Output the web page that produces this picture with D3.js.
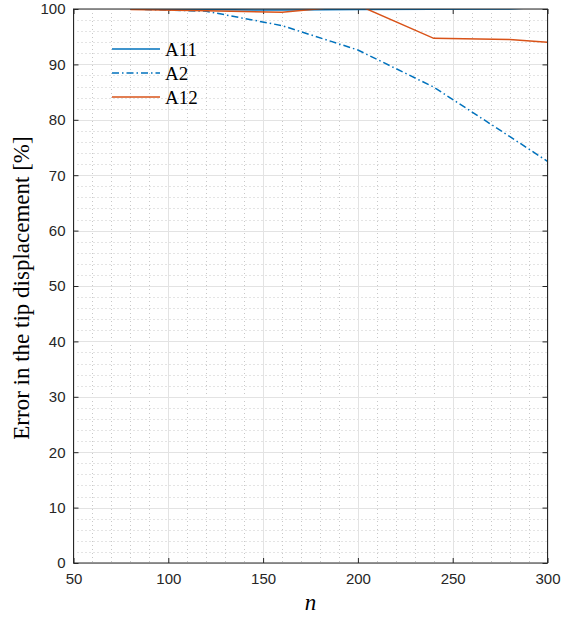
<!DOCTYPE html>
<html>
<head>
<meta charset="utf-8">
<script src="https://cdn.jsdelivr.net/npm/d3@7"></script>
<style>
  body { margin: 0; background: #fff; }
  svg { display: block; }
</style>
</head>
<body>
<svg id="chart"></svg>
<script>
// values
const nValues = [80, 120, 160, 200, 240, 280, 300];
const a11 = [100, 99.9, 99.8, 99.9, 99.95, 99.98, 100.4];
const a2 = [100, 99.6, 97.0, 92.6, 85.9, 77.0, 72.5];
const a12 = [99.9, 99.7, 99.4, 100.7, 94.7, 94.5, 94.0];

const seriesNames = ["A11", "A2", "A12"];
const seriesColors = ["#0072BD", "#0072BD", "#D95319"];
const seriesDash = [null, "7,3,1.5,3", null];

const xTicks = [50, 100, 150, 200, 250, 300];
const yTicks = [0, 10, 20, 30, 40, 50, 60, 70, 80, 90, 100];

const width = 562;
const height = 617;
const margin = { left: 73.5, right: 14.5, top: 9, bottom: 54 };

const svg = d3.select("#chart").attr("width", width).attr("height", height);

const x = d3.scaleLinear().domain([50, 300]).range([margin.left, width - margin.right]);
const y = d3.scaleLinear().domain([0, 100]).range([height - margin.bottom, margin.top]);

const x0 = x.range()[0], x1 = x.range()[1];
const y0 = y.range()[0], y1 = y.range()[1];

svg.append("defs").append("clipPath").attr("id", "plotclip")
  .append("rect").attr("x", x0).attr("y", y1).attr("width", x1 - x0).attr("height", y0 - y1);

// minor grid
const grid = svg.append("g");
const xMinor = d3.range(50, 301, 10).filter((v) => v % 50 !== 0);
const yMinor = d3.range(0, 101, 2).filter((v) => v % 10 !== 0);

grid.selectAll(".xminor").data(xMinor).enter().append("line")
  .attr("x1", (d) => Math.round(x(d)) + 0.5).attr("x2", (d) => Math.round(x(d)) + 0.5)
  .attr("y1", y1).attr("y2", y0)
  .attr("stroke", "#c8c8c8").attr("stroke-width", 1).attr("stroke-dasharray", "1,3");
grid.selectAll(".yminor").data(yMinor).enter().append("line")
  .attr("y1", (d) => Math.round(y(d)) + 0.5).attr("y2", (d) => Math.round(y(d)) + 0.5)
  .attr("x1", x0).attr("x2", x1)
  .attr("stroke", "#c8c8c8").attr("stroke-width", 1).attr("stroke-dasharray", "1,3");

// major grid
grid.selectAll(".xmajor").data(xTicks).enter().append("line")
  .attr("x1", (d) => Math.round(x(d)) + 0.5).attr("x2", (d) => Math.round(x(d)) + 0.5)
  .attr("y1", y1).attr("y2", y0)
  .attr("stroke", "#e3e3e3").attr("stroke-width", 1);
grid.selectAll(".ymajor").data(yTicks).enter().append("line")
  .attr("y1", (d) => Math.round(y(d)) + 0.5).attr("y2", (d) => Math.round(y(d)) + 0.5)
  .attr("x1", x0).attr("x2", x1)
  .attr("stroke", "#e3e3e3").attr("stroke-width", 1);

// axes box with inward ticks
const axisColor = "#262626";
const font = "'Liberation Sans', Arial, sans-serif";

const bottomAxis = d3.axisBottom(x).tickValues(xTicks).tickSize(-5).tickPadding(10);
const topAxis = d3.axisTop(x).tickValues(xTicks).tickSize(-5).tickFormat("");
const leftAxis = d3.axisLeft(y).tickValues(yTicks).tickSize(-5).tickPadding(8);
const rightAxis = d3.axisRight(y).tickValues(yTicks).tickSize(-5).tickFormat("");

function styleAxis(g) {
  g.select(".domain").remove();
  g.selectAll(".tick line").attr("stroke", axisColor);
  g.selectAll("text").attr("fill", axisColor).style("font-family", font).style("font-size", "15px");
}

svg.append("g").attr("transform", `translate(0,${y0})`).call(bottomAxis).call(styleAxis);
svg.append("g").attr("transform", `translate(0,${y1})`).call(topAxis).call(styleAxis);
svg.append("g").attr("transform", `translate(${x0},0)`).call(leftAxis).call(styleAxis);
svg.append("g").attr("transform", `translate(${x1},0)`).call(rightAxis).call(styleAxis);

// series
const seriesData = [a11, a2, a12];
const line = d3.line().x((d) => x(d[0])).y((d) => y(d[1]));

const lines = svg.append("g").attr("clip-path", "url(#plotclip)");
seriesData.forEach((vals, i) => {
  lines.append("path")
    .datum(nValues.map((n, j) => [n, vals[j]]))
    .attr("d", line)
    .attr("fill", "none")
    .attr("stroke", seriesColors[i])
    .attr("stroke-width", 1.5)
    .attr("stroke-dasharray", seriesDash[i]);
});

// box outline
svg.append("rect")
  .attr("x", x0).attr("y", y1).attr("width", x1 - x0).attr("height", y0 - y1)
  .attr("fill", "none").attr("stroke", axisColor).attr("stroke-width", 1);

// legend
const legend = svg.append("g").attr("transform", "translate(112,49)");
seriesNames.forEach((name, i) => {
  const row = legend.append("g").attr("transform", `translate(0,${i * 24})`);
  row.append("line")
    .attr("x1", 0).attr("x2", 48).attr("y1", 0).attr("y2", 0)
    .attr("stroke", seriesColors[i]).attr("stroke-width", 1.5)
    .attr("stroke-dasharray", seriesDash[i]);
  row.append("text")
    .attr("x", 53).attr("y", 6.5)
    .style("font-family", "'Liberation Serif', 'DejaVu Serif', serif")
    .style("font-size", "19px")
    .attr("fill", "#000")
    .text(name);
});

// axis titles
svg.append("text")
  .attr("x", (x0 + x1) / 2).attr("y", 610)
  .attr("text-anchor", "middle")
  .style("font-family", "'Liberation Serif', 'DejaVu Serif', serif")
  .style("font-style", "italic")
  .style("font-size", "23px")
  .text("n");

svg.append("text")
  .attr("transform", `translate(29,${(y0 + y1) / 2 + 2}) rotate(-90)`)
  .attr("text-anchor", "middle")
  .style("font-family", "'Liberation Serif', 'DejaVu Serif', serif")
  .style("font-size", "23px")
  .text("Error in the tip displacement [%]");
</script>
</body>
</html>
